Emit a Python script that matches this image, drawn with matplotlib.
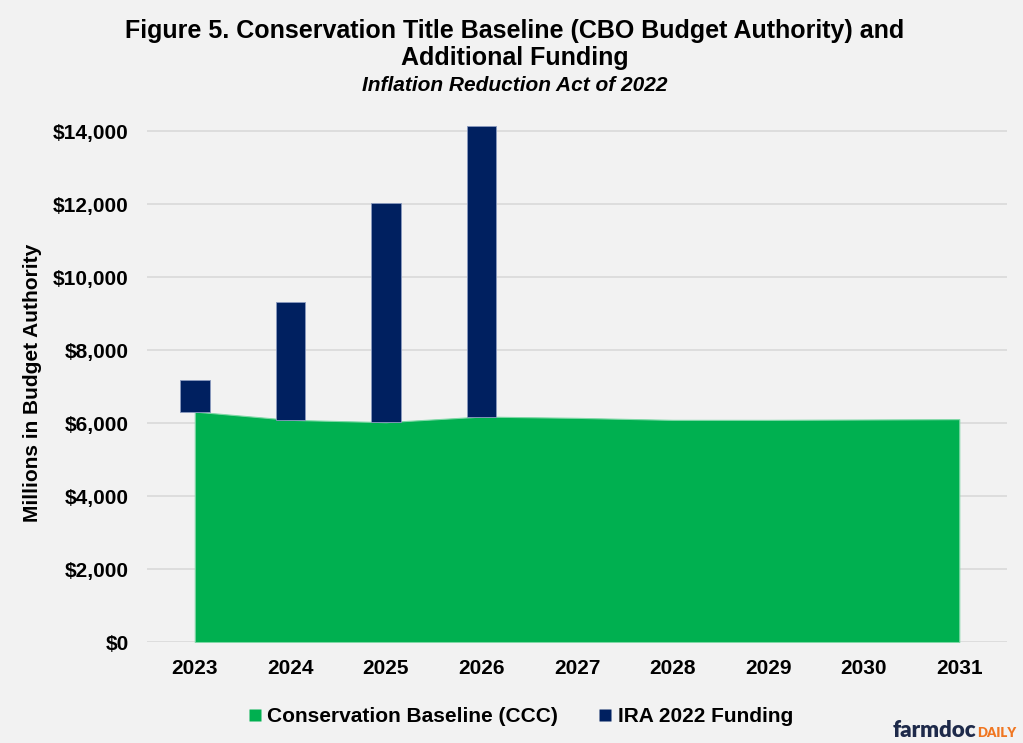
import numpy as np
import matplotlib.pyplot as plt
from matplotlib.lines import Line2D

plt.rcParams['font.family'] = ['Liberation Sans', 'DejaVu Sans']

years = ['2023', '2024', '2025', '2026', '2027', '2028', '2029', '2030', '2031']
baseline_ccc = [6317, 6090, 6027, 6180, 6145, 6090, 6090, 6100, 6110]
ira_years = ['2023', '2024', '2025', '2026']
ira_funding = [865, 3230, 6010, 7955]
y_ticks = [0, 2000, 4000, 6000, 8000, 10000, 12000, 14000]

green = '#00B050'
navy = '#002060'
bg = '#F2F2F2'

fig = plt.figure(figsize=(10.23, 7.43), dpi=100, facecolor=bg)
ax = fig.add_axes([0.1437, 0.1359, 0.8407, 0.6972], facecolor=bg)

x = np.arange(len(years))
ax.fill_between(x, 0, baseline_ccc, color=green, edgecolor='#7FD8A6',
                linewidth=0.8, zorder=2)

# IRA bars sit on top of the baseline for the same year
ira_x = [years.index(y) for y in ira_years]
ira_bottom = [baseline_ccc[i] for i in ira_x]
ax.bar(ira_x, ira_funding, bottom=ira_bottom, width=0.31, color=navy,
       edgecolor='#8A9ABF', linewidth=0.6, zorder=3, clip_on=False)

ax.set_xlim(-0.5, len(years) - 0.5)
ax.set_ylim(0, 14200)
ax.set_yticks(y_ticks)
ax.set_yticklabels(['${:,}'.format(v) for v in y_ticks])
ax.set_xticks(x)
ax.set_xticklabels(years)
ax.grid(axis='y', color='#D9D9D9', linewidth=1.2, zorder=0)
ax.set_axisbelow(True)
for s in ax.spines.values():
    s.set_visible(False)
ax.tick_params(length=0, labelsize=15)
ax.tick_params(axis='y', pad=13)
ax.tick_params(axis='x', pad=12)
for lbl in ax.get_xticklabels() + ax.get_yticklabels():
    lbl.set_fontweight('bold')

ax.set_ylabel('Millions in Budget Authority', fontsize=15, fontweight='bold')
ax.yaxis.set_label_coords(-0.122, 0.5)

fig.text(0.503, 0.958, 'Figure 5. Conservation Title Baseline (CBO Budget Authority) and',
         ha='center', va='center', fontsize=18, fontweight='bold')
fig.text(0.503, 0.922, 'Additional Funding',
         ha='center', va='center', fontsize=18, fontweight='bold')
fig.text(0.503, 0.885, 'Inflation Reduction Act of 2022', ha='center', va='center',
         fontsize=15, fontweight='bold', style='italic')

handles = [Line2D([], [], marker='s', linestyle='none', markersize=9,
                  markerfacecolor=green, markeredgecolor='none'),
           Line2D([], [], marker='s', linestyle='none', markersize=9,
                  markerfacecolor=navy, markeredgecolor='none')]
fig.legend(handles, ['Conservation Baseline (CCC)', 'IRA 2022 Funding'],
           loc='center', bbox_to_anchor=(0.507, 0.035), ncol=2, frameon=False,
           prop={'size': 15, 'weight': 'bold'}, handletextpad=0.1,
           columnspacing=1.75, handlelength=1.0)

# farmdoc daily wordmark
fig.text(0.954, 0.008, 'farmdoc', ha='right', va='baseline', fontsize=16,
         family='Lato', fontweight='heavy', color='#1E2A4A')
fig.text(0.955, 0.008, 'DAILY', ha='left', va='baseline', fontsize=9.5,
         family='Lato', fontweight='heavy', color='#F07722')

fig.savefig('out.png', dpi=100, facecolor=bg)
